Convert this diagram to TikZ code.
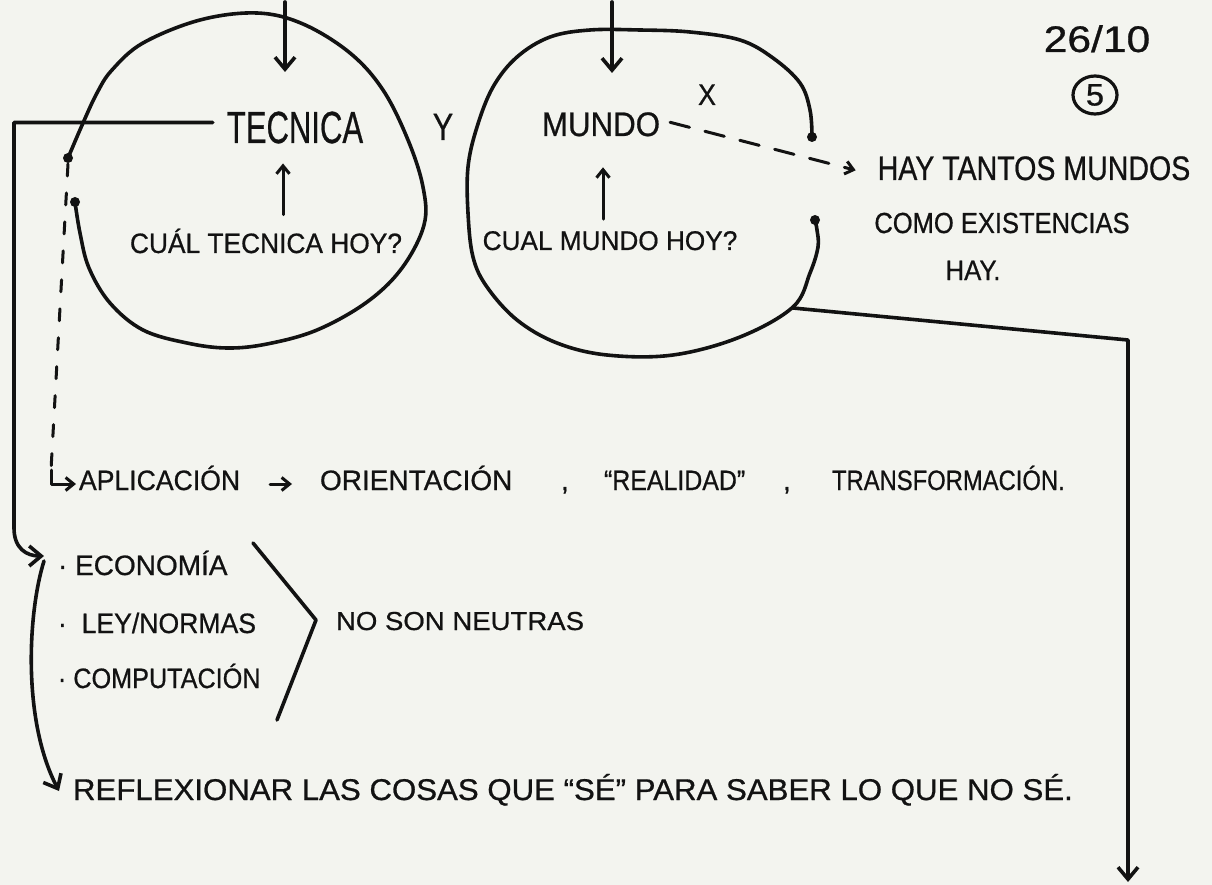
\documentclass[tikz,border=0pt]{standalone}
\usepackage{fontspec}
\setmainfont{Liberation Sans}
\newfontfamily\handfont{Liberation Sans}[FakeBold=0.7]
\usepackage{graphicx}
\usetikzlibrary{arrows.meta,shapes.geometric,calc}
\definecolor{paper}{RGB}{243,244,239}
\definecolor{ink}{RGB}{18,18,18}
\newcommand{\hw}[3]{\fontsize{#1}{#1}\handfont\selectfont\scalebox{#2}[1]{#3}}
\begin{document}
\begin{tikzpicture}[x=1pt,y=-1pt,line width=3.6pt,line cap=round,line join=round,color=ink,
  every node/.style={inner sep=0pt,outer sep=0pt},
  arr/.style={-{Straight Barb[length=12pt,width=20pt]}},
  arrs/.style={line width=3pt,-{Straight Barb[length=8pt,width=13pt]}},
  dsh/.style={line width=3pt,dash pattern=on 12pt off 17pt},
  dsh2/.style={line width=3pt,dash pattern=on 20pt off 16pt}]
\useasboundingbox (0,0) rectangle (1212,885);
\fill[paper] (0,0) rectangle (1212,885);

% ---------- texts ----------
\node[anchor=base] (tec) at (295,143) {\hw{45}{0.69}{TECNICA}};
\node[anchor=base] (yy) at (443,140) {\hw{38}{0.8}{Y}};
\node[anchor=base] (mun) at (601,136) {\hw{34}{0.92}{MUNDO}};
\node[anchor=base] (xm) at (707,105) {\hw{30}{0.9}{X}};
\node[anchor=base] (cualt) at (266,253) {\hw{28}{0.94}{CUÁL TECNICA HOY?}};
\node[anchor=base] (cualm) at (610,250) {\hw{27}{0.97}{CUAL MUNDO HOY?}};
\node[anchor=base] (hay1) at (1034,180) {\hw{34}{0.84}{HAY TANTOS MUNDOS}};
\node[anchor=base] (hay2) at (1002,233) {\hw{29}{0.88}{COMO EXISTENCIAS}};
\node[anchor=base] (hay3) at (973,280) {\hw{28}{0.92}{HAY.}};
\node[anchor=base] (date) at (1097,52) {\hw{37}{1.15}{26/10}};
\node[draw,ellipse,line width=3.2pt,minimum width=44pt,minimum height=38pt] (five) at (1095,95) {\hw{31}{1.05}{5}};

\node[anchor=base west] (apl) at (79,490) {\hw{28}{0.95}{APLICACIÓN}};
\node[anchor=base west] (ori) at (320,490) {\hw{28}{1.0}{ORIENTACIÓN}};
\node[anchor=base] (cm1) at (565,490) {\hw{28}{1}{,}};
\node[anchor=base west] (rea) at (604,490) {\hw{28}{0.89}{“REALIDAD”}};
\node[anchor=base] (cm2) at (787,490) {\hw{28}{1}{,}};
\node[anchor=base west] (tra) at (832,490) {\hw{28}{0.85}{TRANSFORMACIÓN.}};

\node[anchor=base west] (eco) at (58,575) {\hw{28}{1}{·\ ECONOMÍA}};
\node[anchor=base west] (ley) at (58,633) {\hw{28}{0.95}{·\ \ LEY/NORMAS}};
\node[anchor=base west] (com) at (58,688) {\hw{28}{0.9}{·\ COMPUTACIÓN}};
\node[anchor=base west] (neu) at (336,630) {\hw{26}{1.06}{NO SON NEUTRAS}};

\node[anchor=base west] (refl) at (73,800) {\hw{30}{1.04}{REFLEXIONAR LAS COSAS QUE “SÉ” PARA SABER LO QUE NO SÉ.}};

% ---------- circle TECNICA ----------
\coordinate (d1) at (68,158);
\coordinate (d2) at (75,202);
\draw plot[smooth,tension=0.6] coordinates {(68,158) (83,123) (97,93) (112,70) (143,43) (200,20) (257,13) (303,24) (350,53) (383,90) (408,140) (423,187) (424,225) (402,268) (367,302) (317,330) (267,344) (227,348) (187,343) (143,330) (110,303) (89,268) (80,233) (75,202)};
\fill (d1) circle (5pt);
\fill (d2) circle (5pt);

% ---------- circle MUNDO ----------
\coordinate (d3) at (812,137);
\coordinate (d4) at (815,220);
\draw plot[smooth,tension=0.6] coordinates {(812,137) (810,110) (800,83) (773,58) (740,40) (690,32) (640,30) (590,30) (550,37) (517,57) (493,87) (477,127) (468,167) (468,213) (473,257) (487,287) (517,320) (557,343) (607,355) (673,355) (740,337) (793,307) (810,273) (818,247) (817,230) (815,220)};
\fill (d3) circle (5pt);
\fill (d4) circle (5pt);

% ---------- arrows into circles ----------
\coordinate (t1) at (285,2);
\coordinate (t2) at (612,2);
\draw[arr] (t1) -- (285,72);
\draw[arr] (t2) -- (612,73);
\draw[arrs,shorten <=14pt,shorten >=20pt] ([xshift=17pt]cualt.north) -- ([xshift=-12pt]tec.south);
\draw[arrs,shorten <=12pt,shorten >=31pt] ([xshift=-7pt]cualm.north) -- ([xshift=2pt]mun.south);

% ---------- MUNDO -> HAY TANTOS ----------
\draw[dsh2,arrs] ([shift={(10pt,2pt)}]mun.east) -- ([shift={(-22pt,-2pt)}]hay1.west);

% ---------- left connector TECNICA -> list ----------
\coordinate (lx) at (14,0);
\coordinate (ls) at ($(tec.west)+(-14pt,5pt)$);
\coordinate (jn) at (44,556);
\draw[arr] (ls) -- (ls -| lx) -- (14,528) .. controls (14,548) and (26,556) .. (jn);
\draw[arr] (44,561) .. controls (28,612) and (22,720) .. ([shift={(-14pt,9pt)}]refl.base west);

% ---------- dashed to APLICACION ----------
\coordinate (dend) at (51,470);
\draw[dsh] ([yshift=-6pt]d1) -- (dend);
\draw[arrs] (dend) |- ([shift={(-3pt,6pt)}]apl.base west);
\draw[arrs,shorten <=30pt,shorten >=28pt] ([yshift=6pt]apl.base east) -- ([yshift=6pt]ori.base west);

% ---------- bracket ----------
\draw (253,543) -- (316,620) -- (277,720);

% ---------- MUNDO circle -> down ----------
\coordinate (c2b) at (793,308);
\coordinate (corner) at (1128,340);
\coordinate (bend) at (1128,882);
\draw[arr] (c2b) -- (corner) -- (bend);
\end{tikzpicture}
\end{document}
